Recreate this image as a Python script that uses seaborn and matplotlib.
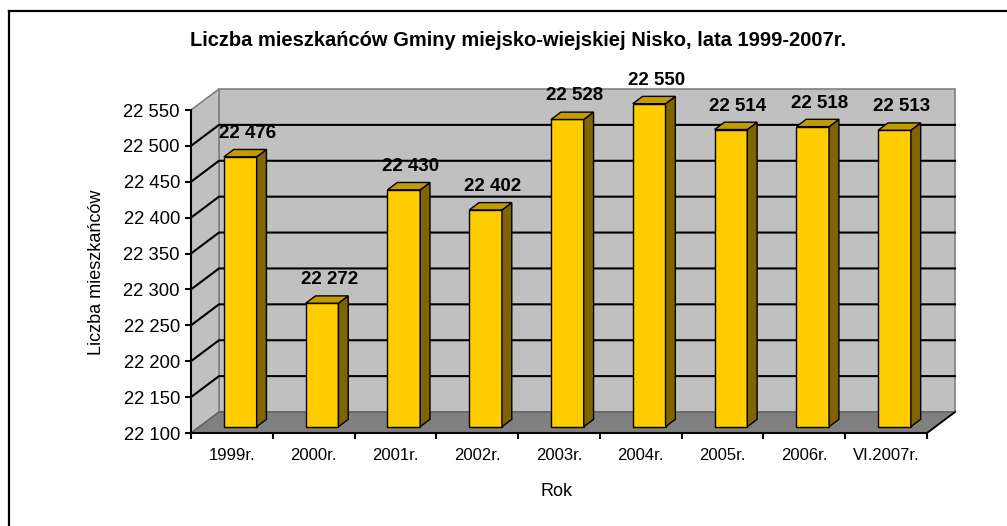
import numpy as np
import matplotlib
matplotlib.use("Agg")
import matplotlib.pyplot as plt
from matplotlib.patches import Polygon
from matplotlib.lines import Line2D
from matplotlib.transforms import ScaledTranslation
from matplotlib.ticker import FuncFormatter
import seaborn as sns

# ---- data ----
years = ["1999r.", "2000r.", "2001r.", "2002r.", "2003r.", "2004r.", "2005r.", "2006r.", "VI.2007r."]
population = [22476, 22272, 22430, 22402, 22528, 22550, 22514, 22518, 22513]
y_ticks = [22100, 22150, 22200, 22250, 22300, 22350, 22400, 22450, 22500, 22550]
title = "Liczba mieszkańców Gminy miejsko-wiejskiej Nisko, lata 1999-2007r."
x_label = "Rok"
y_label = "Liczba mieszkańców"

plt.rcParams["font.family"] = ["Liberation Sans", "DejaVu Sans"]

W, H = 1007, 526
fig = plt.figure(figsize=(W / 100, H / 100), dpi=100)
fig.patch.set_facecolor("white")

def fx(px):
    return px / W

def fy(py):
    return 1 - py / H

# front plane of the pseudo-3D chart
ax = fig.add_axes([fx(191), fy(433), 736 / W, 323 / H])
ax.patch.set_visible(False)

FRONT = "#FFCC00"
SIDE = "#7F6500"
TOP = "#C29B00"
WALL = "#C0C0C0"
FLOOR = "#808080"
BORDER = "#808080"

sns.barplot(x=years, y=population, ax=ax, color=FRONT, saturation=1,
            width=0.4, edgecolor="black", linewidth=1.0, zorder=3)

ax.set_xlim(-0.5, len(years) - 0.5)
ax.set_ylim(y_ticks[0], y_ticks[-1])
base = y_ticks[0]

# depth (pixels, display coordinates: +x right, +y up)
DX, DY = 28.0, 21.0
F0, F1 = 0.30, 0.65  # bar front / back depth fractions

to_fig = fig.transFigure.inverted()

def disp(x, y):
    return ax.transData.transform((x, y))

def figpt(d, dx=0.0, dy=0.0):
    return to_fig.transform((d[0] + dx, d[1] + dy))

# --- walls & floor (figure-level, behind axes) ---
xl, xr = ax.get_xlim()
yb, yt = ax.get_ylim()
p_fl = disp(xl, yb); p_fr = disp(xr, yb); p_tl = disp(xl, yt); p_tr = disp(xr, yt)

back_wall = Polygon([figpt(p_fl, DX, DY), figpt(p_fr, DX, DY), figpt(p_tr, DX, DY), figpt(p_tl, DX, DY)],
                    closed=True, transform=fig.transFigure, facecolor=WALL, edgecolor=BORDER,
                    linewidth=1.2, zorder=-3)
left_wall = Polygon([figpt(p_fl), figpt(p_fl, DX, DY), figpt(p_tl, DX, DY), figpt(p_tl)],
                    closed=True, transform=fig.transFigure, facecolor=WALL, edgecolor=BORDER,
                    linewidth=1.2, zorder=-3)
floor = Polygon([figpt(p_fl), figpt(p_fr), figpt(p_fr, DX, DY), figpt(p_fl, DX, DY)],
                closed=True, transform=fig.transFigure, facecolor=FLOOR, edgecolor="#606060",
                linewidth=1.0, zorder=-2)
fig.add_artist(back_wall)
fig.add_artist(left_wall)
fig.add_artist(floor)

# gridlines on back and left walls
for v in y_ticks[1:-1]:
    a = disp(xl, v); b = disp(xr, v)
    fig.add_artist(Line2D([figpt(a)[0], figpt(a, DX, DY)[0], figpt(b, DX, DY)[0]],
                          [figpt(a)[1], figpt(a, DX, DY)[1], figpt(b, DX, DY)[1]],
                          transform=fig.transFigure, color="black", linewidth=1.5, zorder=-1))
# right edge of floor
fig.add_artist(Line2D([figpt(p_fr)[0], figpt(p_fr, DX, DY)[0]],
                      [figpt(p_fr)[1], figpt(p_fr, DX, DY)[1]],
                      transform=fig.transFigure, color="black", linewidth=1.3, zorder=-1))

# --- bars: shift front faces into depth, add side and top faces ---
shift = ScaledTranslation(F0 * DX / 100, F0 * DY / 100, fig.dpi_scale_trans)
sdx, sdy = (F1 - F0) * DX, (F1 - F0) * DY
for p, val in zip(ax.patches, population):
    p.set_y(base)
    p.set_height(val - base)
    p.set_transform(ax.transData + shift)
    p.set_clip_on(False)
    x0 = p.get_x(); x1 = x0 + p.get_width()
    ox, oy = F0 * DX, F0 * DY
    br = disp(x1, base); tr = disp(x1, val); tl = disp(x0, val)
    side = Polygon([figpt(br, ox, oy), figpt(tr, ox, oy), figpt(tr, ox + sdx, oy + sdy), figpt(br, ox + sdx, oy + sdy)],
                   closed=True, transform=fig.transFigure, facecolor=SIDE, edgecolor="black",
                   linewidth=1.0, zorder=3, clip_on=False)
    top = Polygon([figpt(tl, ox, oy), figpt(tr, ox, oy), figpt(tr, ox + sdx, oy + sdy), figpt(tl, ox + sdx, oy + sdy)],
                  closed=True, transform=fig.transFigure, facecolor=TOP, edgecolor="black",
                  linewidth=1.0, zorder=3, clip_on=False)
    ax.add_patch(side)
    ax.add_patch(top)
    cx = (x0 + x1) / 2
    lab = figpt(disp(cx, val), ox + 7, oy + 15)
    fig.text(lab[0], lab[1], f"{val:,}".replace(",", " "), ha="center", va="bottom",
             fontsize=13.5, fontweight="bold", color="black")

# --- axes styling ---
for s in ["top", "right"]:
    ax.spines[s].set_visible(False)
ax.spines["left"].set_linewidth(1.5)
ax.spines["bottom"].set_linewidth(1.5)
ax.spines["left"].set_zorder(5)
ax.spines["bottom"].set_zorder(5)

ax.set_yticks(y_ticks)
ax.yaxis.set_major_formatter(FuncFormatter(lambda v, _: f"{int(v):,}".replace(",", " ")))
ax.tick_params(axis="y", length=4, width=1.5, pad=4, labelsize=13.3, colors="black")

ax.set_xticks(range(len(years)))
ax.set_xticklabels(years)
ax.set_xticks(np.arange(-0.5, len(years), 1.0), minor=True)
ax.tick_params(axis="x", which="major", length=0, pad=11, labelsize=12)
ax.tick_params(axis="x", which="minor", length=4, width=1.5)
ax.grid(False)

ax.set_xlabel(x_label, fontsize=13)
ax.set_ylabel(y_label, fontsize=13)
ax.xaxis.set_label_coords((557 - 191) / 736, -(492 - 433) / 323)
ax.yaxis.set_label_coords((97 - 191) / 736, (433 - 272) / 323)
ax.xaxis.label.set_va("center")
ax.yaxis.label.set_va("center")

fig.text(fx(518), fy(40), title, ha="center", va="center", fontsize=14.5, fontweight="bold")

# outer frame (top and left edges)
fig.add_artist(Line2D([fx(9), 1.0], [fy(10.5), fy(10.5)], transform=fig.transFigure, color="black", linewidth=1.6))
fig.add_artist(Line2D([fx(9), fx(9)], [fy(10.5), 0.0], transform=fig.transFigure, color="black", linewidth=1.6))

fig.savefig("out.png", dpi=100)
